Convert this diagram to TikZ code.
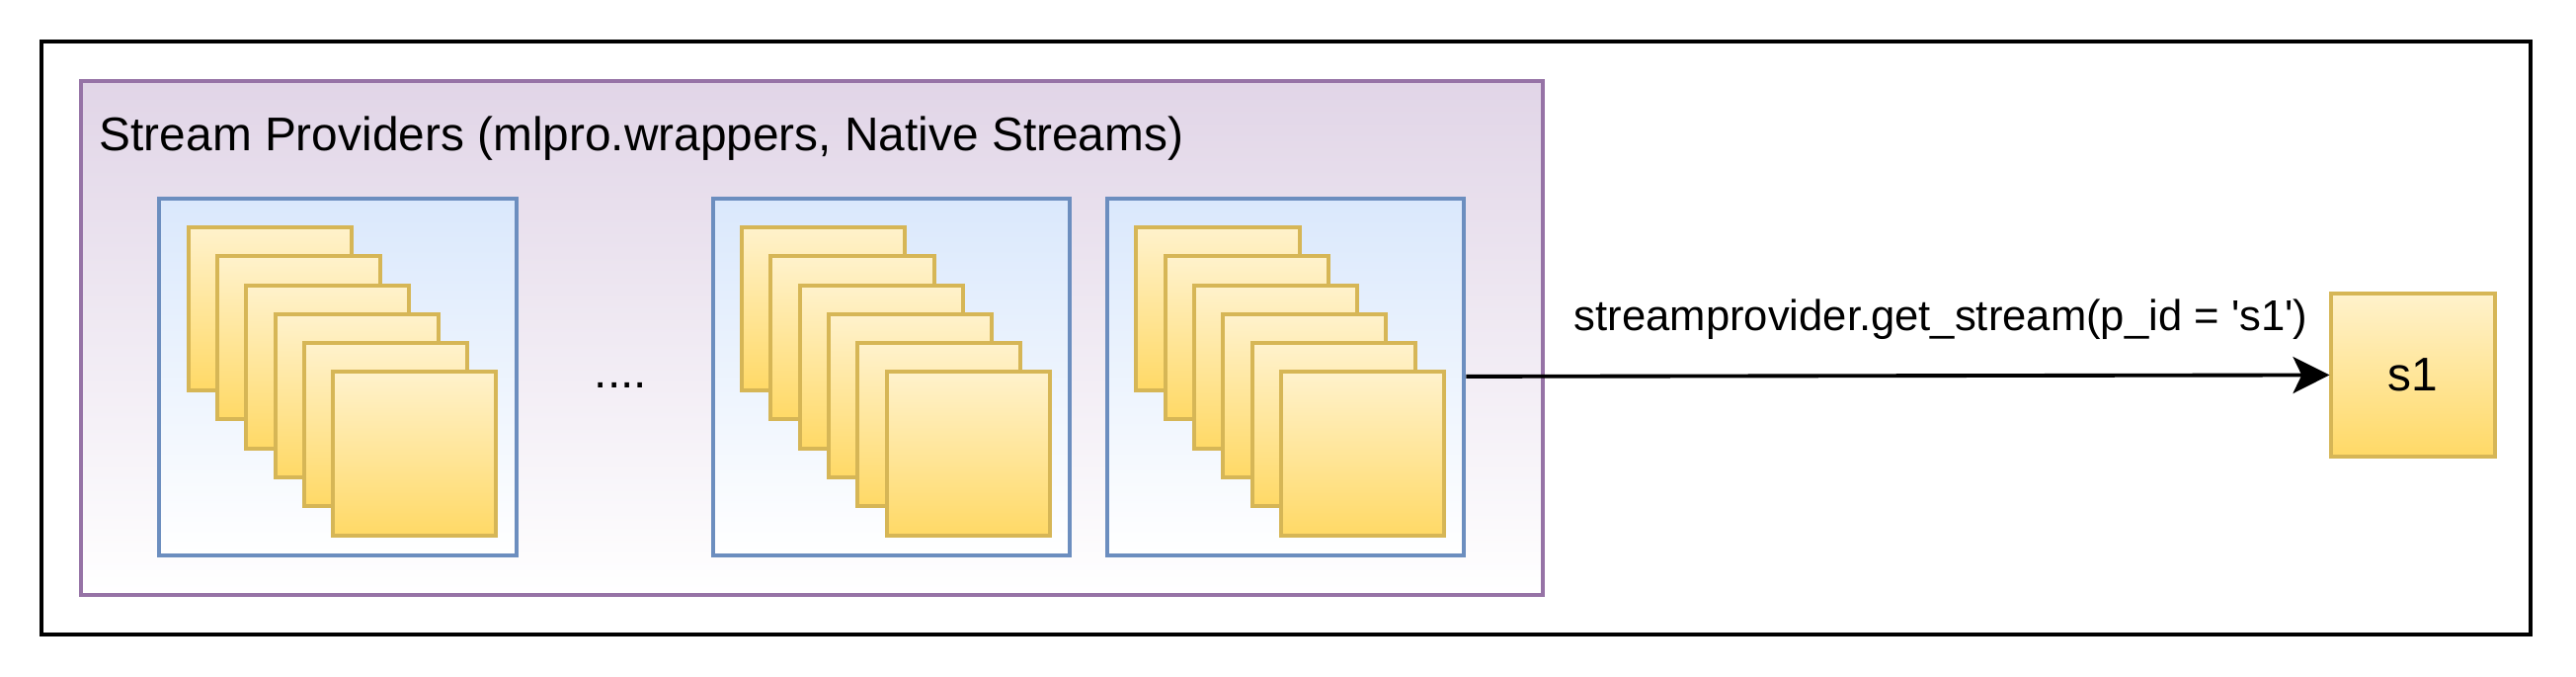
\documentclass[tikz,border=0pt]{standalone}
\usepackage{fontspec}
\setmainfont{Liberation Sans}
\usepackage{xcolor}
\usetikzlibrary{arrows.meta,positioning,calc}

\definecolor{provline}{HTML}{9673A6}
\definecolor{provtop}{HTML}{E1D5E7}
\definecolor{grpline}{HTML}{6C8EBF}
\definecolor{grptop}{HTML}{DAE8FC}
\definecolor{strmline}{HTML}{D6B656}
\definecolor{strmtop}{HTML}{FFF2CC}
\definecolor{strmbot}{HTML}{FFD966}

\begin{document}
\begin{tikzpicture}[
  x=0.01cm, y=-0.01cm,
  every node/.style={font=\fontsize{13.6pt}{16pt}\selectfont},
  frame/.style={draw=black, line width=1.25pt, minimum width=25.19cm, minimum height=6cm},
  provider/.style={draw=provline, line width=1.15pt, top color=provtop, bottom color=white, minimum width=14.8cm, minimum height=5.2cm},
  group/.style={draw=grpline, line width=1.15pt, top color=grptop, bottom color=white, minimum size=3.61cm},
  strm/.style={draw=strmline, line width=1.15pt, top color=strmtop, bottom color=strmbot, minimum size=1.65cm, inner sep=0pt},
  arrow/.style={-{Stealth[length=10.5pt, width=10.5pt, inset=2.5pt]}, line width=1.1pt}
]
  \useasboundingbox (0,0) rectangle (2608,684);
  \node[frame] (frame) at (1302,342) {};
  \node[provider] (prov) at (822,342) {};
  \node[anchor=base west, inner sep=0pt] (title) at (100,152.7) {Stream Providers (mlpro.wrappers, Native Streams)};
  \node[group] (grp1) at (342,381.2) {};
  \node[group] (grp2) at (902.4,381.2) {};
  \node[group, right=0.34cm of grp2] (grp3) {};
  \node[anchor=base, inner sep=0pt] (dots) at (628.5,392.5) {....};
  \foreach \g in {1,2,3}
    \foreach \i in {1,...,6}
      \node[strm] (inst-\g-\i) at ($(grp\g)+(29.3*\i-98,29.3*\i-98)$) {};
  \node[strm] (stream) at (2443,379.3) {s1};

  \draw[arrow] (grp3) -- node[pos=0.55, anchor=base, yshift=0.452cm, inner sep=0pt, font=\fontsize{12.4pt}{15pt}\selectfont] (call) {streamprovider.get\_stream(p\_id = \textquotesingle s1\textquotesingle)} (stream);
\end{tikzpicture}
\end{document}
